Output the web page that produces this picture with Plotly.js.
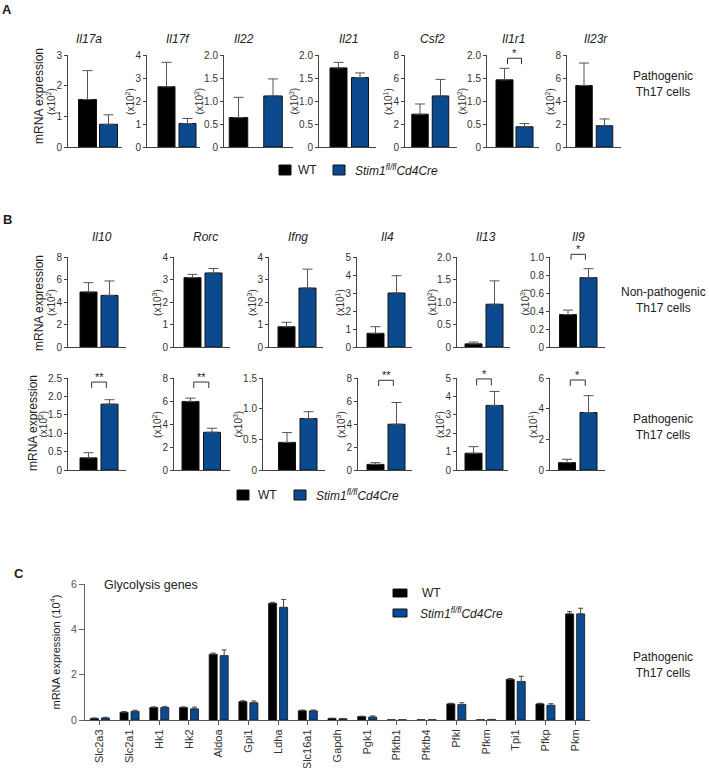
<!DOCTYPE html>
<html><head><meta charset="utf-8">
<script src="https://cdn.plot.ly/plotly-3.0.1.min.js"></script>
<style>body{margin:0;background:#fff}#chart{width:709px;height:768px}</style>
</head><body><div id="chart"></div>
<script>
// ---------------- DATA ----------------
// Panel A (Pathogenic Th17 cells)
const genesA = ["Il17a","Il17f","Il22","Il21","Csf2","Il1r1","Il23r"];
const expA   = ["2","2","2","3","1","2","2"];
const wtA    = [1.55, 2.62, 0.64, 1.72, 2.85, 1.46, 5.35];
const wtErrA = [0.94, 1.06, 0.44, 0.12, 0.89, 0.25, 1.95];
const koA    = [0.74, 1.02, 1.11, 1.51, 4.44, 0.44, 1.85];
const koErrA = [0.31, 0.22, 0.37, 0.10, 1.44, 0.07, 0.59];
const ticksA = [["0","1","2","3"],["0","1","2","3","4"],["0","0.5","1.0","1.5","2.0"],
                ["0","0.5","1.0","1.5","2.0"],["0","2","4","6","8"],["0","0.5","1.0","1.5","2.0"],["0","2","4","6","8"]];
const sigA = [[5,"*",1.93,1.80]];

// Panel B
const genesB = ["Il10","Rorc","Ifng","Il4","Il13","Il9"];
// Non-pathogenic Th17 cells
const expB1    = ["2","3","3","1","2","3"];
const wtB1     = [4.89, 3.08, 0.90, 0.76, 0.07, 0.36];
const wtErrB1  = [0.83, 0.15, 0.20, 0.37, 0.04, 0.05];
const koB1     = [4.59, 3.29, 2.62, 3.00, 0.95, 0.77];
const koErrB1  = [1.28, 0.20, 0.84, 0.96, 0.52, 0.10];
const ticksB1 = [["0","2","4","6","8"],["0","1","2","3","4"],["0","1","2","3","4"],
                 ["0","1","2","3","4","5"],["0","0.5","1.0","1.5","2.0"],["0","0.2","0.4","0.6","0.8","1.0"]];
const sigB1 = [[5,"*",1.03,0.97]];
// Pathogenic Th17 cells
const expB2    = ["2","2","3","3","2","1"];
const wtB2     = [0.33, 5.96, 0.45, 0.49, 0.91, 0.48];
const wtErrB2  = [0.14, 0.29, 0.16, 0.15, 0.36, 0.22];
const koB2     = [1.79, 3.28, 0.84, 3.98, 3.51, 3.75];
const koErrB2  = [0.12, 0.35, 0.11, 1.89, 0.76, 1.10];
const ticksB2 = [["0","0.5","1.0","1.5","2.0","2.5"],["0","2","4","6","8"],["0","0.5","1.0","1.5"],
                 ["0","2","4","6","8"],["0","1","2","3","4","5"],["0","2","4","6"]];
const sigB2 = [[0,"**",2.39,2.23],[1,"**",7.65,7.13],[3,"**",7.8,7.3],[4,"*",4.95,4.6],[5,"*",5.87,5.48]];

// Panel C (Glycolysis genes)
const genesC = ["Slc2a3","Slc2a1","Hk1","Hk2","Aldoa","Gpi1","Ldha","Slc16a1","Gapdh","Pgk1",
                "Pfkfb1","Pfkfb4","Pfkl","Pfkm","Tpi1","Pfkp","Pkm"];
const wtC    = [0.07,0.34,0.55,0.55,2.90,0.81,5.15,0.41,0.07,0.15,0.01,0.01,0.71,0.01,1.79,0.71,4.68];
const wtErrC = [0.02,0.03,0.03,0.03,0.05,0.04,0.04,0.03,0.01,0.02,0.005,0.005,0.03,0.005,0.04,0.03,0.10];
const koC    = [0.09,0.38,0.55,0.49,2.84,0.76,4.97,0.40,0.05,0.13,0.01,0.01,0.68,0.02,1.70,0.65,4.68];
const koErrC = [0.03,0.05,0.05,0.08,0.25,0.08,0.35,0.04,0.02,0.05,0.005,0.005,0.08,0.01,0.23,0.07,0.25];
const ticksC = ["0","2","4","6"];

const nameWT = "WT";
const nameKO = "<i>Stim1<sup>fl/fl</sup>Cd4Cre</i>";

// ---------------- LAYOUT HELPERS ----------------
const W = 709, H = 768;
const FONT = '"Liberation Sans", Arial, Helvetica, sans-serif';
const BLACK = '#000000', BLUE = '#0b4a8f', AX = '#444';
const px = x => x / W, py = y => 1 - y / H;

const layout = {
  width: W, height: H, margin: {l:0, r:0, t:0, b:0},
  paper_bgcolor: '#fff', plot_bgcolor: 'rgba(0,0,0,0)',
  showlegend: false, barmode: 'group', bargap: 0.26, bargroupgap: 0.27,
  font: {family: FONT, size: 10, color: '#222'},
  annotations: [], shapes: []
};
const traces = [];
const subInfo = {};
let n = 0;

function ann(x, y, text, size, opts) {
  layout.annotations.push(Object.assign({xref:'paper', yref:'paper', x:px(x), y:py(y), text:text,
    showarrow:false, font:{size:size, color:'#222', family:FONT}, xanchor:'center', yanchor:'middle'}, opts || {}));
}
// approximate pixel width of a tick label at 10px
const labelW = s => s.split('').reduce((a, c) => a + (c === '.' ? 2.8 : 5.6), 0);

// geometry: [axisStartPx, axisEndPx, firstBarCenterPx, spacingPx, barWidthPx]
function addSmall(geo, yTop, yBot, wt, wtE, ko, koE, ticks, ex) {
  n++;
  const [x0, x1, c0, sp, bw] = geo;
  const xk = n === 1 ? 'xaxis' : 'xaxis' + n, yk = n === 1 ? 'yaxis' : 'yaxis' + n;
  const tv = ticks.map(Number);
  const ymax = tv[tv.length - 1];
  subInfo[n] = {yTop: yTop, yBot: yBot, ymax: ymax};
  layout[xk] = {domain:[px(x0), px(x1)], range:[(x0 - c0) / sp, (x1 - c0) / sp], anchor:'y' + n,
    showline:true, linecolor:AX, linewidth:1, showticklabels:false, ticks:'', showgrid:false, zeroline:false, fixedrange:true};
  layout[yk] = {domain:[py(yBot), py(yTop)], range:[0, ymax], anchor:'x' + n,
    tickmode:'array', tickvals:tv, ticktext:ticks, ticks:'outside', ticklen:3, tickcolor:AX, tickwidth:1,
    showline:true, linecolor:AX, linewidth:1, showgrid:false, zeroline:false, fixedrange:true,
    tickfont:{size:10, color:'#333'}};
  // axis unit label, placed as rotated text beside the tick labels
  const wMax = Math.max(...ticks.map(labelW));
  const ux = x0 - 6 - wMax - 5.5;
  ann(ux, (yTop + yBot) / 2, '(x10<sup>' + ex + '</sup>)', 10, {textangle:-90, font:{size:10, color:'#333', family:FONT}});
  traces.push({type:'bar', x:[0, 1], y:[wt, ko], width:bw / sp, xaxis:'x' + n, yaxis:'y' + n,
    marker:{color:[BLACK, BLUE], line:{color:'#111', width:1}},
    error_y:{type:'data', symmetric:false, array:[wtE, koE], arrayminus:[0, 0], color:'#555', thickness:1, width:5},
    hoverinfo:'skip'});
  return n;
}
// bracket: x in data units of the subplot, y converted to paper (so it is not clipped above the axis)
function addSig(k, label, top, leg) {
  const s = subInfo[k];
  const toPaper = v => py(s.yBot - (v / s.ymax) * (s.yBot - s.yTop));
  layout.shapes.push({type:'path', xref:'x' + k, yref:'paper',
    path:`M 0.15 ${toPaper(leg)} L 0.15 ${toPaper(top)} L 0.85 ${toPaper(top)} L 0.85 ${toPaper(leg)}`,
    line:{color:'#333', width:1}});
  layout.annotations.push({xref:'x' + k, yref:'paper', x:0.5, y:toPaper(top), text:label, showarrow:false,
    yanchor:'bottom', yshift:-3, font:{size:11, color:'#222', family:FONT}});
}
function legendRow(xs, y, textX) {
  layout.shapes.push({type:'rect', xref:'paper', yref:'paper', x0:px(xs[0]), x1:px(xs[0] + 12), y0:py(y - 5), y1:py(y + 5),
    fillcolor:BLACK, line:{color:'#111', width:1}});
  layout.shapes.push({type:'rect', xref:'paper', yref:'paper', x0:px(xs[1]), x1:px(xs[1] + 12), y0:py(y - 5), y1:py(y + 5),
    fillcolor:BLUE, line:{color:'#111', width:1}});
  ann(textX[0], y, nameWT, 12, {xanchor:'left'});
  ann(textX[1], y, nameKO, 12, {xanchor:'left'});
}

// ---------------- PANEL A ----------------
const geoA = [[68,122,87.5,21,18],[147,200,166.5,21,17],[224,293,238.5,34.5,18.5],[319,376,338.5,21.5,17],
              [405,457,420,20.5,16.5],[487,539,504.5,20,17],[567,621,584,20.5,16.5]];
const titleXA = [89,178,244,348,432,513,596];
const idxA = [];
genesA.forEach((g, i) => {
  idxA.push(addSmall(geoA[i], 55, 147, wtA[i], wtErrA[i], koA[i], koErrA[i], ticksA[i], expA[i]));
  ann(titleXA[i], 39, '<i>' + g + '</i>', 12);
});
sigA.forEach(s => addSig(idxA[s[0]], s[1], s[2], s[3]));
ann(39, 96, 'mRNA expression', 12, {textangle:-90});
ann(663, 84, 'Pathogenic<br>Th17 cells', 12);
legendRow([279, 333], 170, [296, 353]);
ann(7, 9, '<b>A</b>', 13);

// ---------------- PANEL B ----------------
const geoB1 = [[68,126,88.5,21,17],[174,230,192.5,21,17],[269,323,286.5,21,17],[357,412,375.5,21,17],
               [457,510,473.5,21,17],[550,605,568,20.5,17]];
const geoB2 = [[68,126,88.5,21,17],[174,230,190.5,21.5,17],[263,325,287,21.5,17],[358,412,375.5,21,17],
               [457,508,473.5,21,17],[550,605,567,21.5,17]];
const titleXB = [102,205,298,387,486,578];
const idxB1 = [], idxB2 = [];
genesB.forEach((g, i) => {
  idxB1.push(addSmall(geoB1[i], 257, 347, wtB1[i], wtErrB1[i], koB1[i], koErrB1[i], ticksB1[i], expB1[i]));
  ann(titleXB[i], 237, '<i>' + g + '</i>', 12);
});
genesB.forEach((g, i) => {
  idxB2.push(addSmall(geoB2[i], 378, 470, wtB2[i], wtErrB2[i], koB2[i], koErrB2[i], ticksB2[i], expB2[i]));
});
sigB1.forEach(s => addSig(idxB1[s[0]], s[1], s[2], s[3]));
sigB2.forEach(s => addSig(idxB2[s[0]], s[1], s[2], s[3]));
ann(39, 303, 'mRNA expression', 12, {textangle:-90});
ann(33, 423, 'mRNA expression', 12, {textangle:-90});
ann(663, 300, 'Non-pathogenic<br>Th17 cells', 12);
ann(663, 427, 'Pathogenic<br>Th17 cells', 12);
legendRow([237, 294], 495, [256, 314]);
ann(7, 219, '<b>B</b>', 13);

// ---------------- PANEL C ----------------
n++;
const kC = n;
layout['xaxis' + kC] = {domain:[px(85), px(590)], type:'category', range:[-0.5, genesC.length - 0.5], anchor:'y' + kC,
  showline:true, linecolor:'#555', linewidth:1, ticks:'outside', ticklen:4, tickcolor:'#555', tickangle:-90,
  tickfont:{size:11, color:'#333'}, showgrid:false, zeroline:false, fixedrange:true};
layout['yaxis' + kC] = {domain:[py(720), py(584)], range:[0, Number(ticksC[ticksC.length - 1])], anchor:'x' + kC,
  tickmode:'array', tickvals:ticksC.map(Number), ticktext:ticksC, ticks:'outside', ticklen:5, tickcolor:'#666',
  showline:true, linecolor:'#666', linewidth:1, showgrid:false, zeroline:false, fixedrange:true,
  tickfont:{size:10.5, color:'#555'},
  title:{text:'mRNA expression (10<sup>4</sup>)', font:{size:11, color:'#222'}, standoff:8}};
traces.push({type:'bar', name:'WT', x:genesC, y:wtC, xaxis:'x' + kC, yaxis:'y' + kC,
  marker:{color:BLACK, line:{color:'#111', width:0.8}},
  error_y:{type:'data', symmetric:false, array:wtErrC, arrayminus:wtC.map(() => 0), color:'#444', thickness:1, width:2.5},
  hoverinfo:'skip'});
traces.push({type:'bar', name:'Stim1', x:genesC, y:koC, xaxis:'x' + kC, yaxis:'y' + kC,
  marker:{color:BLUE, line:{color:'#111', width:0.8}},
  error_y:{type:'data', symmetric:false, array:koErrC, arrayminus:koC.map(() => 0), color:'#444', thickness:1, width:2.5},
  hoverinfo:'skip'});
ann(102, 585, 'Glycolysis genes', 12.5, {xanchor:'left'});
layout.shapes.push({type:'rect', xref:'paper', yref:'paper', x0:px(393), x1:px(407), y0:py(597), y1:py(589), fillcolor:BLACK, line:{color:'#111', width:1}});
layout.shapes.push({type:'rect', xref:'paper', yref:'paper', x0:px(393), x1:px(407), y0:py(617), y1:py(609), fillcolor:BLUE, line:{color:'#111', width:1}});
ann(420, 593, nameWT, 12, {xanchor:'left'});
ann(418, 613, nameKO, 12, {xanchor:'left'});
ann(663, 665, 'Pathogenic<br>Th17 cells', 12);
ann(19, 573, '<b>C</b>', 13);

Plotly.newPlot('chart', traces, layout, {staticPlot:true, displayModeBar:false});
</script>
</body></html>
